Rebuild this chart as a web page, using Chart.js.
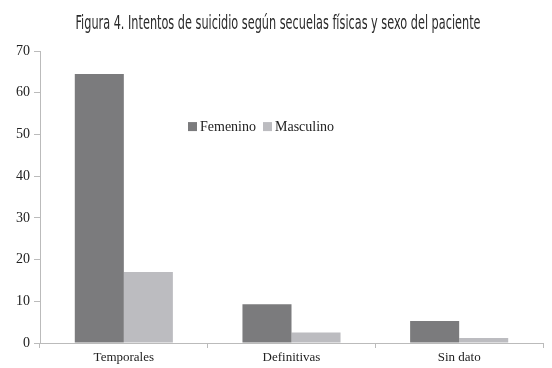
<!DOCTYPE html>
<html><head><meta charset="utf-8">
<script src="https://cdn.jsdelivr.net/npm/chart.js@4.4.0/dist/chart.umd.min.js"></script>
<style>html,body{margin:0;padding:0;background:#fff}#wrap{width:552px;height:368px}</style>
</head><body><div id="wrap"><canvas id="c" width="552" height="368"></canvas></div>
<script>
const categories = ["Temporales", "Definitivas", "Sin dato"];
const femenino = [64.5, 9.3, 5.3];
const masculino = [17, 2.5, 1.2];
const yTicks = [0, 10, 20, 30, 40, 50, 60, 70];
const titleText = "Figura 4. Intentos de suicidio según secuelas físicas y sexo del paciente";

const condensedTitle = {
  id: 'condensedTitle',
  afterDraw(chart) {
    const ctx = chart.ctx;
    ctx.save();
    ctx.font = '19px "DejaVu Sans Condensed", "DejaVu Sans", sans-serif';
    ctx.fillStyle = '#2a2a2a';
    ctx.textBaseline = 'alphabetic';
    const w = ctx.measureText(titleText).width;
    const target = 405;
    const sx = target / w;
    ctx.translate(278 - target / 2, 29);
    ctx.scale(sx, 1);
    ctx.fillText(titleText, 0, 0);
    ctx.restore();
  }
};

const innerLegend = {
  id: 'innerLegend',
  afterDraw(chart) {
    const ctx = chart.ctx;
    const x0 = chart.scales.x.left + 148;
    const y0 = chart.scales.y.getPixelForValue(52);
    ctx.save();
    ctx.font = '14px "Liberation Serif", serif';
    ctx.textBaseline = 'middle';
    let x = x0;
    chart.data.datasets.forEach(ds => {
      ctx.fillStyle = ds.backgroundColor;
      ctx.fillRect(x, y0 - 4, 9, 9);
      x += 12;
      ctx.fillStyle = '#222';
      ctx.fillText(ds.label, x, y0 + 1);
      x += ctx.measureText(ds.label).width + 7;
    });
    ctx.restore();
  }
};

new Chart(document.getElementById('c'), {
  type: 'bar',
  data: {
    labels: categories,
    datasets: [
      { label: 'Femenino', data: femenino, backgroundColor: '#7b7b7d' },
      { label: 'Masculino', data: masculino, backgroundColor: '#bcbcc0' }
    ]
  },
  options: {
    responsive: false,
    animation: false,
    devicePixelRatio: 1,
    layout: { padding: { left: 0, right: 9, top: 51, bottom: 0 } },
    datasets: { bar: { categoryPercentage: 0.585, barPercentage: 1.0 } },
    plugins: {
      legend: { display: false },
      tooltip: { enabled: false },
      title: { display: false }
    },
    scales: {
      x: {
        grid: { display: true, drawOnChartArea: false, offset: true, color: '#bbbbbb', tickLength: 5 },
        border: { color: '#bbbbbb' },
        ticks: { color: '#222', font: { family: '"Liberation Serif", serif', size: 13 }, padding: 2 },
        afterFit(s) { s.height = 25; }
      },
      y: {
        min: 0, max: 70,
        afterBuildTicks(s) { s.ticks = yTicks.map(v => ({ value: v })); },
        grid: { display: true, drawOnChartArea: false, color: '#bbbbbb', tickLength: 6 },
        border: { color: '#bbbbbb' },
        ticks: { color: '#222', font: { family: '"Liberation Serif", serif', size: 14 }, padding: 4 },
        afterFit(s) { s.width = 40; }
      }
    }
  },
  plugins: [innerLegend, condensedTitle]
});
</script></body></html>
